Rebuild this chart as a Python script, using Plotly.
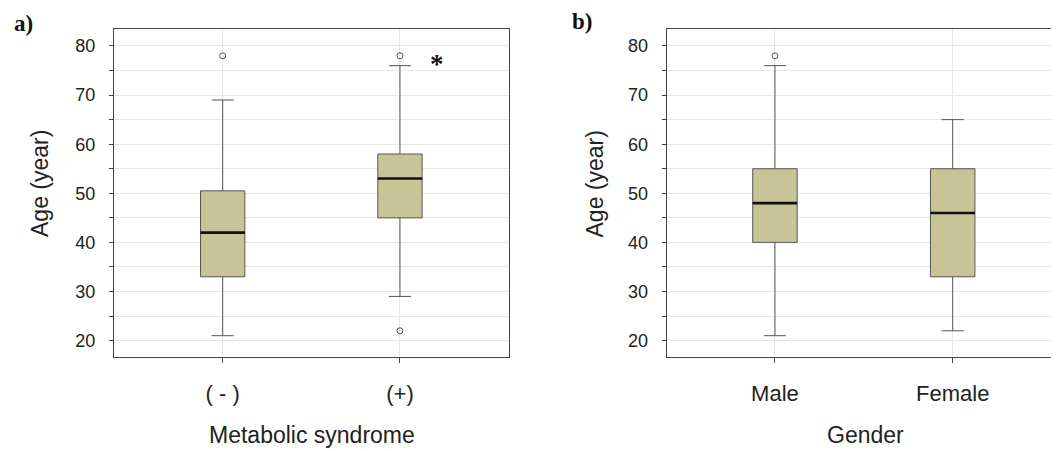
import plotly.graph_objects as go

# ---- data ----
ms_labels = ["( - )", "(+)"]
ms_q1 = [33, 45]
ms_median = [42, 53]
ms_q3 = [50.5, 58]
ms_lower = [21, 29]
ms_upper = [69, 76]
ms_outliers = [[78], [78, 22]]

g_labels = ["Male", "Female"]
g_q1 = [40, 33]
g_median = [48, 46]
g_q3 = [55, 55]
g_lower = [21, 22]
g_upper = [76, 65]
g_outliers = [[78], []]

y_ticks = [20, 30, 40, 50, 60, 70, 80]
sig_pos = 1.21   # asterisk near (+) group
sig_y = 77.4

# ---- style / layout helpers ----
OFF = 8                      # page body margin
W, H = 1059 - OFF, 451 - OFF
FILL = "#c9c497"
LINE = "#555555"
TXT = "#222222"
GRID = "#e6e6e6"
BOXW = 0.25
SANS = "Liberation Sans, Arial, Helvetica, sans-serif"
SERIF = "Liberation Serif, Times New Roman, serif"


def px(x):
    return (x - OFF) / W


def py(y):
    return 1 - (y - OFF) / H


fig = go.Figure()


def add_panel(labels, q1, med, q3, lo, hi, outl, xa, ya):
    xs = list(range(len(labels)))
    fig.add_trace(go.Box(
        x=xs, q1=q1, median=med, q3=q3, lowerfence=lo, upperfence=hi,
        width=BOXW, whiskerwidth=0.5, fillcolor=FILL,
        line=dict(color=LINE, width=1), boxpoints=False,
        xaxis=xa, yaxis=ya, showlegend=False, hoverinfo="skip"))
    for i, m in enumerate(med):
        fig.add_trace(go.Scatter(
            x=[xs[i] - BOXW / 2, xs[i] + BOXW / 2], y=[m, m], mode="lines",
            line=dict(color="#111111", width=2.6), xaxis=xa, yaxis=ya,
            showlegend=False, hoverinfo="skip"))
    ox, oy = [], []
    for i, pts in enumerate(outl):
        for p in pts:
            ox.append(xs[i])
            oy.append(p)
    if ox:
        fig.add_trace(go.Scatter(
            x=ox, y=oy, mode="markers",
            marker=dict(symbol="circle-open", size=6, color=LINE,
                        line=dict(width=1, color=LINE)),
            xaxis=xa, yaxis=ya, showlegend=False, hoverinfo="skip"))


add_panel(ms_labels, ms_q1, ms_median, ms_q3, ms_lower, ms_upper, ms_outliers, "x", "y")
add_panel(g_labels, g_q1, g_median, g_q3, g_lower, g_upper, g_outliers, "x2", "y2")

ydom = [py(357), py(29)]

common_x = dict(
    tickmode="array", tickvals=[0, 1], showgrid=True, gridcolor=GRID, gridwidth=1,
    zeroline=False, showline=True, linecolor="#444444", linewidth=1,
    ticks="outside", ticklen=5, tickcolor="#444444",
    tickfont=dict(family=SANS, size=22, color=TXT), ticklabelstandoff=12,
)
common_y = dict(
    range=[16.66, 83.46], tickmode="array", tickvals=y_ticks,
    showgrid=True, gridcolor=GRID, gridwidth=1, zeroline=False,
    showline=True, linecolor="#444444", linewidth=1,
    ticks="outside", ticklen=4, tickcolor="#444444",
    tickfont=dict(family=SANS, size=18, color=TXT), ticklabelstandoff=10,
    minor=dict(dtick=5, tick0=0, ticks="outside", ticklen=4, tickcolor="#444444",
               showgrid=True, gridcolor=GRID, gridwidth=1),
)

fig.update_layout(
    width=W, height=H, margin=dict(l=0, r=0, t=0, b=0),
    paper_bgcolor="white", plot_bgcolor="white",
    xaxis=dict(common_x, domain=[px(114), px(509)], range=[-0.613, 1.615],
               ticktext=ms_labels, mirror=True, anchor="y"),
    yaxis=dict(common_y, domain=ydom, mirror=True, anchor="x"),
    xaxis2=dict(common_x, domain=[px(666.7), 1.0], range=[-0.609, 1.598],
                ticktext=g_labels, mirror=True, anchor="y2"),
    yaxis2=dict(common_y, domain=ydom, mirror=False, anchor="x2"),
)

ann = [
    dict(text="<b>a)</b>", x=px(12), y=py(23), xanchor="left", yanchor="middle",
         font=dict(family=SERIF, size=23, color="#111111"), xref="paper", yref="paper"),
    dict(text="<b>b)</b>", x=px(570), y=py(22), xanchor="left", yanchor="middle",
         font=dict(family=SERIF, size=23, color="#111111"), xref="paper", yref="paper"),
    dict(text="Metabolic syndrome", x=px(312), y=py(435), xanchor="center", yanchor="middle",
         font=dict(family=SANS, size=23, color=TXT), xref="paper", yref="paper"),
    dict(text="Gender", x=px(865), y=py(435), xanchor="center", yanchor="middle",
         font=dict(family=SANS, size=23, color=TXT), xref="paper", yref="paper"),
    dict(text="Age (year)", x=px(40), y=py(184), xanchor="center", yanchor="middle",
         textangle=-90, font=dict(family=SANS, size=23, color=TXT), xref="paper", yref="paper"),
    dict(text="Age (year)", x=px(594.5), y=py(184), xanchor="center", yanchor="middle",
         textangle=-90, font=dict(family=SANS, size=23, color=TXT), xref="paper", yref="paper"),
    dict(text="<b>*</b>", x=sig_pos, y=sig_y, xref="x", yref="y",
         xanchor="center", yanchor="middle", yshift=-5,
         font=dict(family=SERIF, size=27, color="#111111")),
]
for a in ann:
    a.setdefault("showarrow", False)
fig.update_layout(annotations=ann)

fig.write_html("out.html")
